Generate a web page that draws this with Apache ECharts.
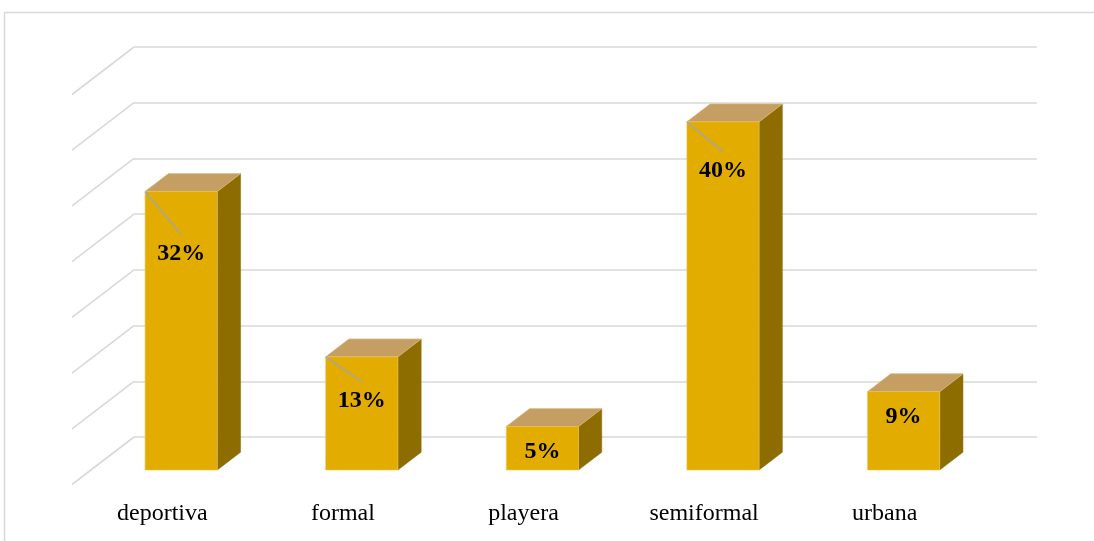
<!DOCTYPE html>
<html>
<head>
<meta charset="utf-8">
<title>Tipo de vestimenta</title>
<script src="https://cdn.jsdelivr.net/npm/echarts@6/dist/echarts.min.js"></script>
<style>
  html, body { margin: 0; padding: 0; background: #ffffff; }
  #chart { width: 1094px; height: 541px; }
</style>
</head>
<body>
<div id="chart"></div>
<script>
// Categories and their shares (percent)
const categories = ['deportiva', 'formal', 'playera', 'semiformal', 'urbana'];
const shares = [32, 13, 5, 40, 9];
// Value levels of the horizontal gridlines on the back wall
const gridTicks = [0, 6.4, 12.8, 19.2, 25.6, 32, 38.4, 44.8];

// Layout of the oblique 3D view (pixels): vector from the back wall to the front edge of the floor
const DEPTH_X = -62;
const DEPTH_Y = 47.5;
const BAR_FRONT = 0.695;   // depth fraction of the bar's front face
const BAR_BACK = 0.32;     // depth fraction of the bar's back face
const BAR_WIDTH = 0.4;     // share of the category band
// Vertical drop of each value label below its bar's top edge
const labelDrop = [62, 44, 25, 49, 25];

const FRONT = '#E2AC00';
const SIDE = '#8E6D00';
const TOP = '#C49E62';
const GRID = '#D9D9D9';
const SERIF = "'Liberation Serif', 'Times New Roman', serif";

function shift(pt, f) {
  return [pt[0] + f * DEPTH_X, pt[1] + f * DEPTH_Y];
}

// Side-wall gridlines: one diagonal per back-wall gridline, from the wall corner to the front
function renderWall(params, api) {
  const level = api.value(1);
  const c = api.coord([0, level]);
  const band = api.size([1, 0])[0];
  const x0 = c[0] - band / 2;
  return {
    type: 'line',
    shape: { x1: x0, y1: c[1], x2: x0 + DEPTH_X, y2: c[1] + DEPTH_Y },
    style: { stroke: GRID, lineWidth: 1.6 }
  };
}

// 3D bar: right side face, top face, front face, then the value label
function renderBar(params, api) {
  const idx = api.value(0);
  const val = api.value(1);
  const base = api.coord([idx, 0]);
  const head = api.coord([idx, val]);
  const half = api.size([1, 0])[0] * BAR_WIDTH / 2;

  const fBL = shift([base[0] - half, base[1]], BAR_FRONT);
  const fBR = shift([base[0] + half, base[1]], BAR_FRONT);
  const fTL = shift([head[0] - half, head[1]], BAR_FRONT);
  const fTR = shift([head[0] + half, head[1]], BAR_FRONT);
  const bBR = shift([base[0] + half, base[1]], BAR_BACK);
  const bTL = shift([head[0] - half, head[1]], BAR_BACK);
  const bTR = shift([head[0] + half, head[1]], BAR_BACK);

  const children = [
    {
      type: 'polygon',
      shape: { points: [fTR, bTR, bBR, fBR] },
      style: { fill: SIDE, stroke: SIDE, lineWidth: 0.5 }
    },
    {
      type: 'polygon',
      shape: { points: [fTL, fTR, bTR, bTL] },
      style: { fill: TOP, stroke: '#D6B57E', lineWidth: 0.8 }
    },
    {
      type: 'polygon',
      shape: { points: [fTL, fTR, fBR, fBL] },
      style: { fill: FRONT, stroke: '#EDC65A', lineWidth: 0.6 }
    }
  ];

  const cx = (fTL[0] + fTR[0]) / 2;
  const drop = labelDrop[params.dataIndex];
  const cy = fTL[1] + drop;
  if (drop > 35) {
    children.push({
      type: 'line',
      shape: { x1: fTL[0], y1: fTL[1], x2: cx, y2: cy - 19 },
      style: { stroke: '#A6A6A6', lineWidth: 1.5 }
    });
  }
  children.push({
    type: 'text',
    style: {
      text: val + '%',
      x: cx,
      y: cy,
      align: 'center',
      verticalAlign: 'middle',
      font: 'bold 24px ' + SERIF,
      fill: '#000000'
    }
  });
  return { type: 'group', children: children };
}

const chart = echarts.init(document.getElementById('chart'), null, { renderer: 'canvas' });

chart.setOption({
  animation: false,
  backgroundColor: '#ffffff',
  graphic: [{
    type: 'rect',
    shape: { x: 4.5, y: 12.5, width: 1300, height: 700 },
    style: { fill: 'none', stroke: GRID, lineWidth: 1.5 },
    silent: true,
    z: -10
  }],
  grid: {
    left: 134,
    right: 57,
    top: 47,
    bottom: 104,
    containLabel: false,
    outerBoundsMode: 'none'
  },
  xAxis: {
    type: 'category',
    data: categories,
    axisLine: { show: false },
    axisTick: { show: false },
    splitLine: { show: false },
    axisLabel: {
      margin: 65,
      padding: [0, -DEPTH_X * 2, 0, 0],
      color: '#000000',
      fontFamily: SERIF,
      fontSize: 24
    }
  },
  yAxis: {
    type: 'value',
    min: 0,
    max: 44.8,
    interval: 6.4,
    axisLine: { show: false },
    axisTick: { show: false },
    axisLabel: { show: false },
    splitLine: { lineStyle: { color: GRID, width: 1.6 } }
  },
  series: [
    {
      type: 'custom',
      name: 'pared',
      renderItem: renderWall,
      data: gridTicks.map(v => [0, v]),
      encode: { x: 0, y: 1 },
      clip: false,
      silent: true,
      z: 1
    },
    {
      type: 'custom',
      name: 'vestimenta',
      renderItem: renderBar,
      data: shares.map((v, i) => [i, v]),
      encode: { x: 0, y: 1 },
      clip: false,
      z: 5
    }
  ]
});
</script>
</body>
</html>
